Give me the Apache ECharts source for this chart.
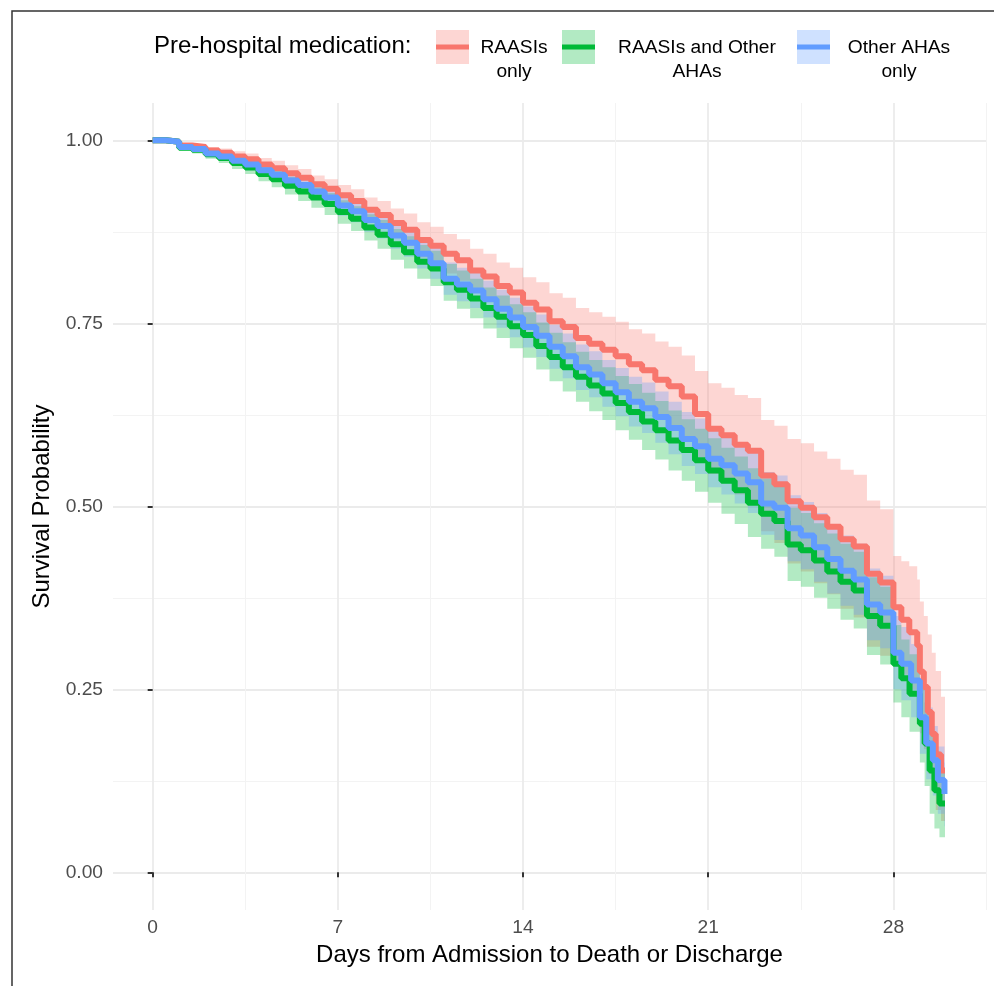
<!DOCTYPE html>
<html>
<head>
<meta charset="utf-8">
<title>Survival by pre-hospital medication</title>
<script src="https://cdn.jsdelivr.net/npm/echarts@6/dist/echarts.min.js"></script>
<style>
  html, body { margin: 0; padding: 0; background: #fff; }
  #chart { width: 994px; height: 986px; }
</style>
</head>
<body>
<div id="chart"></div>
<script>
// groups, in legend order
const groupNames = ['RAASIs only', 'RAASIs and Other AHAs', 'Other AHAs only'];
const legendLabels = ['RAASIs\nonly', 'RAASIs and Other\nAHAs', 'Other AHAs\nonly'];
const groupColors = ['#F8766D', '#00BA38', '#619CFF'];

// axis breaks
const xTicks = [0, 7, 14, 21, 28];
const xMinorTicks = [3.5, 10.5, 17.5, 24.5, 31.5];
const yTicks = [0, 0.25, 0.5, 0.75, 1];
const yMinorTicks = [0.125, 0.375, 0.625, 0.875];

// Kaplan-Meier step times (days)
const halfDays = [0, 0.5, 1, 1.5, 2, 2.5, 3, 3.5, 4, 4.5, 5, 5.5, 6, 6.5, 7, 7.5, 8, 8.5, 9, 9.5,
  10, 10.5, 11, 11.5, 12, 12.5, 13, 13.5, 14, 14.5, 15, 15.5, 16, 16.5, 17, 17.5, 18, 18.5, 19, 19.5,
  20, 20.5, 21, 21.5, 22, 22.5, 23, 23.5, 24, 24.5, 25, 25.5, 26, 26.5, 27, 27.5, 28];
const raasTailDays = [28.3, 28.6, 28.9, 29.0, 29.15, 29.3, 29.45, 29.6, 29.8, 29.95];
const bothTailDays = [28.3, 28.61, 29.0, 29.18, 29.37, 29.55, 29.74, 29.95];
const otherTailDays = [28.3, 28.67, 29.0, 29.24, 29.49, 29.68, 29.93, 29.95];

// RAASIs only
const raasSurv = [1.000, 0.998, 0.993, 0.991, 0.986, 0.983, 0.978, 0.974, 0.967, 0.962, 0.955, 0.949, 0.940, 0.934, 0.925, 0.917, 0.905, 0.898, 0.887, 0.878,
  0.864, 0.856, 0.845, 0.836, 0.822, 0.814, 0.801, 0.792, 0.778, 0.769, 0.753, 0.745, 0.730, 0.722, 0.714, 0.705, 0.694, 0.686, 0.673, 0.664,
  0.650, 0.626, 0.606, 0.597, 0.584, 0.576, 0.542, 0.530, 0.507, 0.498, 0.485, 0.472, 0.455, 0.445, 0.408, 0.396, 0.362,
  0.345, 0.328, 0.310, 0.274, 0.253, 0.219, 0.189, 0.161, 0.139, 0.139];
const raasLower = [1.000, 0.996, 0.990, 0.987, 0.981, 0.977, 0.971, 0.966, 0.958, 0.952, 0.944, 0.938, 0.928, 0.921, 0.911, 0.902, 0.888, 0.880, 0.867, 0.856,
  0.840, 0.831, 0.818, 0.808, 0.792, 0.783, 0.769, 0.759, 0.743, 0.733, 0.715, 0.706, 0.689, 0.679, 0.669, 0.659, 0.646, 0.636, 0.621, 0.610,
  0.594, 0.567, 0.544, 0.532, 0.516, 0.504, 0.466, 0.450, 0.422, 0.411, 0.395, 0.380, 0.360, 0.348, 0.308, 0.296, 0.285,
  0.270, 0.250, 0.230, 0.190, 0.168, 0.135, 0.110, 0.085, 0.070, 0.070];
const raasUpper = [1.000, 1.000, 0.996, 0.995, 0.991, 0.989, 0.985, 0.982, 0.976, 0.972, 0.966, 0.961, 0.952, 0.947, 0.939, 0.933, 0.922, 0.917, 0.907, 0.900,
  0.888, 0.882, 0.872, 0.865, 0.852, 0.845, 0.833, 0.826, 0.813, 0.806, 0.791, 0.785, 0.771, 0.765, 0.759, 0.752, 0.742, 0.736, 0.725, 0.718,
  0.706, 0.685, 0.668, 0.662, 0.652, 0.648, 0.618, 0.610, 0.592, 0.586, 0.575, 0.565, 0.550, 0.543, 0.508, 0.496, 0.432,
  0.425, 0.418, 0.400, 0.370, 0.350, 0.325, 0.300, 0.275, 0.240, 0.240];

// RAASIs and Other AHAs
const bothSurv = [1.000, 0.998, 0.990, 0.987, 0.981, 0.976, 0.969, 0.963, 0.954, 0.947, 0.938, 0.930, 0.922, 0.913, 0.902, 0.893, 0.881, 0.871, 0.858, 0.847,
  0.834, 0.825, 0.806, 0.796, 0.784, 0.771, 0.759, 0.746, 0.734, 0.719, 0.704, 0.690, 0.677, 0.665, 0.654, 0.641, 0.629, 0.616, 0.604, 0.590,
  0.577, 0.563, 0.549, 0.535, 0.522, 0.505, 0.490, 0.480, 0.448, 0.440, 0.426, 0.411, 0.397, 0.385, 0.350, 0.337, 0.285,
  0.265, 0.244, 0.203, 0.176, 0.139, 0.112, 0.094, 0.094];
const bothLower = [1.000, 0.996, 0.986, 0.982, 0.975, 0.969, 0.961, 0.954, 0.944, 0.936, 0.926, 0.917, 0.908, 0.898, 0.886, 0.876, 0.863, 0.852, 0.837, 0.825,
  0.811, 0.801, 0.781, 0.770, 0.757, 0.743, 0.730, 0.716, 0.703, 0.687, 0.671, 0.657, 0.643, 0.630, 0.618, 0.604, 0.591, 0.577, 0.564, 0.549,
  0.535, 0.520, 0.505, 0.490, 0.476, 0.458, 0.442, 0.431, 0.398, 0.390, 0.375, 0.360, 0.345, 0.333, 0.297, 0.284, 0.232,
  0.212, 0.192, 0.150, 0.118, 0.080, 0.060, 0.048, 0.048];
const bothUpper = [1.000, 1.000, 0.994, 0.992, 0.987, 0.983, 0.977, 0.972, 0.964, 0.958, 0.950, 0.943, 0.936, 0.928, 0.918, 0.910, 0.899, 0.891, 0.879, 0.869,
  0.857, 0.849, 0.831, 0.822, 0.811, 0.799, 0.788, 0.776, 0.765, 0.751, 0.737, 0.724, 0.711, 0.700, 0.690, 0.678, 0.667, 0.655, 0.644, 0.631,
  0.619, 0.606, 0.593, 0.580, 0.568, 0.552, 0.538, 0.529, 0.498, 0.491, 0.477, 0.463, 0.449, 0.438, 0.403, 0.390, 0.338,
  0.318, 0.298, 0.258, 0.232, 0.196, 0.166, 0.142, 0.142];

// Other AHAs only
const otherSurv = [1.000, 0.998, 0.991, 0.988, 0.982, 0.978, 0.972, 0.967, 0.959, 0.953, 0.945, 0.939, 0.930, 0.922, 0.911, 0.903, 0.891, 0.883, 0.870, 0.860,
  0.845, 0.832, 0.811, 0.803, 0.795, 0.783, 0.770, 0.758, 0.745, 0.733, 0.718, 0.705, 0.690, 0.680, 0.668, 0.656, 0.643, 0.634, 0.622, 0.607,
  0.592, 0.582, 0.565, 0.556, 0.545, 0.533, 0.504, 0.498, 0.470, 0.460, 0.444, 0.428, 0.412, 0.400, 0.366, 0.355, 0.300,
  0.285, 0.262, 0.212, 0.176, 0.153, 0.126, 0.107, 0.107];
const otherLower = [1.000, 0.996, 0.987, 0.984, 0.977, 0.972, 0.965, 0.959, 0.950, 0.943, 0.934, 0.928, 0.918, 0.909, 0.897, 0.888, 0.875, 0.866, 0.852, 0.841,
  0.825, 0.811, 0.789, 0.780, 0.771, 0.758, 0.744, 0.731, 0.717, 0.704, 0.688, 0.675, 0.659, 0.649, 0.636, 0.623, 0.609, 0.600, 0.587, 0.571,
  0.555, 0.544, 0.526, 0.516, 0.504, 0.491, 0.461, 0.454, 0.425, 0.414, 0.397, 0.381, 0.364, 0.352, 0.317, 0.306, 0.250,
  0.235, 0.212, 0.162, 0.127, 0.105, 0.080, 0.063, 0.063];
const otherUpper = [1.000, 1.000, 0.995, 0.993, 0.987, 0.984, 0.979, 0.975, 0.968, 0.963, 0.956, 0.951, 0.942, 0.935, 0.925, 0.918, 0.907, 0.900, 0.888, 0.879,
  0.865, 0.853, 0.833, 0.826, 0.819, 0.808, 0.796, 0.785, 0.773, 0.762, 0.748, 0.736, 0.721, 0.712, 0.700, 0.689, 0.677, 0.669, 0.657, 0.643,
  0.629, 0.620, 0.604, 0.596, 0.586, 0.575, 0.547, 0.542, 0.515, 0.506, 0.491, 0.476, 0.460, 0.449, 0.415, 0.405, 0.350,
  0.335, 0.312, 0.262, 0.225, 0.200, 0.172, 0.150, 0.150];

const FONT = '"Liberation Sans", Arial, sans-serif';

const curves = [
  { days: halfDays.concat(raasTailDays), surv: raasSurv, lower: raasLower, upper: raasUpper },
  { days: halfDays.concat(bothTailDays), surv: bothSurv, lower: bothLower, upper: bothUpper },
  { days: halfDays.concat(otherTailDays), surv: otherSurv, lower: otherLower, upper: otherUpper }
];

// one step-shaped polygon per ribbon, points mapped through the axes
function renderRibbon(color) {
  return function (params, api) {
    if (params.dataIndexInside !== 0) return null;
    const n = params.dataInsideLength;
    const top = [];
    const bottom = [];
    for (let i = 0; i < n - 1; i++) {
      const t0 = api.value(0, i), t1 = api.value(0, i + 1);
      const lo = api.value(1, i), hi = api.value(2, i);
      top.push(api.coord([t0, hi]), api.coord([t1, hi]));
      bottom.push(api.coord([t0, lo]), api.coord([t1, lo]));
    }
    return {
      type: 'polygon',
      shape: { points: top.concat(bottom.reverse()) },
      style: { fill: color, opacity: 0.3 },
      silent: true
    };
  };
}

const series = [];
curves.forEach((c, i) => {
  series.push({
    name: groupNames[i] + ' 95% CI',
    type: 'custom',
    data: c.days.map((t, k) => [t, c.lower[k], c.upper[k]]),
    encode: { x: 0, y: [1, 2] },
    renderItem: renderRibbon(groupColors[i]),
    clip: true,
    silent: true,
    z: 1
  });
});
curves.forEach((c, i) => {
  series.push({
    name: groupNames[i],
    type: 'line',
    step: 'end',
    data: c.days.map((t, k) => [t, c.surv[k]]),
    showSymbol: false,
    lineStyle: { width: 6, color: groupColors[i] },
    itemStyle: { color: groupColors[i] },
    silent: true,
    z: 3
  });
});

// legend drawn as graphic so keys look like ggplot keys
const keyLeft = [436, 562, 797];
const labelCenter = [514, 697, 899];
const legendGraphics = [
  {
    type: 'text', left: 154, top: 34,
    style: { text: 'Pre-hospital medication:', font: '24px ' + FONT, fill: '#000' }
  },
  {
    type: 'rect', shape: { x: 12, y: 11, width: 1200, height: 1200 },
    style: { fill: 'none', stroke: '#333', lineWidth: 1.5 }, silent: true
  }
];
groupNames.forEach((g, i) => {
  legendGraphics.push({
    type: 'rect', shape: { x: keyLeft[i], y: 30, width: 33, height: 34 },
    style: { fill: groupColors[i], opacity: 0.3 }
  });
  legendGraphics.push({
    type: 'rect', shape: { x: keyLeft[i], y: 44.5, width: 33, height: 5 },
    style: { fill: groupColors[i] }
  });
  legendGraphics.push({
    type: 'text', x: labelCenter[i], y: 36,
    style: {
      text: legendLabels[i], font: '19.2px ' + FONT, fill: '#000',
      align: 'center', verticalAlign: 'top', lineHeight: 24
    }
  });
});

const option = {
  backgroundColor: '#fff',
  animation: false,
  grid: { left: 113, right: 8, top: 103, bottom: 76 },
  xAxis: [
    {
      type: 'value', min: -1.5, max: 31.5,
      name: 'Days from Admission to Death or Discharge',
      nameLocation: 'middle', nameGap: 33,
      nameTextStyle: { fontFamily: FONT, fontSize: 24, color: '#000' },
      axisLine: { show: false },
      axisTick: { show: true, length: 5, customValues: xTicks, lineStyle: { color: '#333', width: 2 } },
      axisLabel: { customValues: xTicks, margin: 8, fontFamily: FONT, fontSize: 19.2, color: '#4D4D4D' },
      splitLine: { show: true, lineStyle: { color: '#EBEBEB', width: 1.8 } }
    },
    {
      type: 'value', min: -1.5, max: 31.5, position: 'bottom',
      axisLine: { show: false },
      axisTick: { show: false, customValues: xMinorTicks },
      axisLabel: { show: false, customValues: xMinorTicks },
      splitLine: { show: true, lineStyle: { color: '#F3F3F3', width: 1 } }
    }
  ],
  yAxis: [
    {
      type: 'value', min: -0.0515, max: 1.051,
      name: 'Survival Probability',
      nameLocation: 'middle', nameGap: 56,
      nameTextStyle: { fontFamily: FONT, fontSize: 24, color: '#000' },
      axisLine: { show: false },
      axisTick: { show: true, length: 5, customValues: yTicks, lineStyle: { color: '#333', width: 2 } },
      axisLabel: {
        customValues: yTicks, margin: 10, fontFamily: FONT, fontSize: 19.2, color: '#4D4D4D',
        formatter: v => v.toFixed(2)
      },
      splitLine: { show: true, lineStyle: { color: '#EBEBEB', width: 1.8 } }
    },
    {
      type: 'value', min: -0.0515, max: 1.051, position: 'left',
      axisLine: { show: false },
      axisTick: { show: false, customValues: yMinorTicks },
      axisLabel: { show: false, customValues: yMinorTicks },
      splitLine: { show: true, lineStyle: { color: '#F3F3F3', width: 1 } }
    }
  ],
  graphic: legendGraphics,
  series: series
};

const chart = echarts.init(document.getElementById('chart'));
chart.setOption(option);
</script>
</body>
</html>
